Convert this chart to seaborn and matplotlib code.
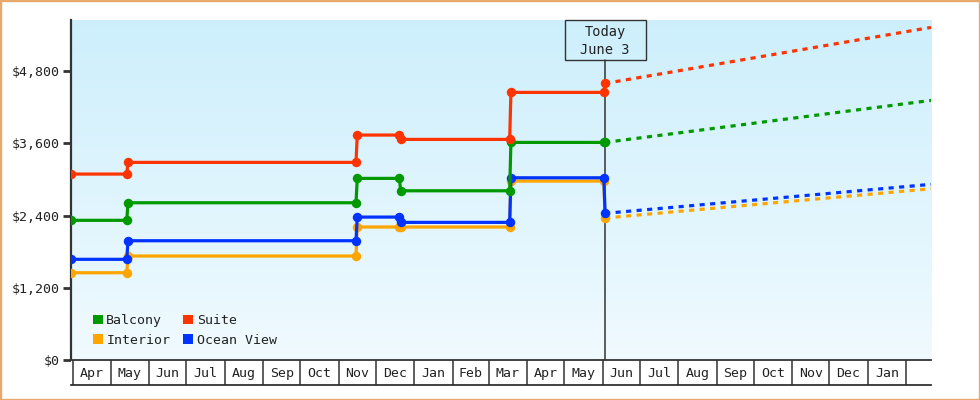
import numpy as np
import pandas as pd
import matplotlib
matplotlib.use("Agg")
import matplotlib.pyplot as plt
import matplotlib.transforms as mtransforms
import matplotlib.dates as mdates
from matplotlib.patches import Patch, Rectangle
from matplotlib.colors import LinearSegmentedColormap
from matplotlib.ticker import FuncFormatter
import seaborn as sns

# ---------------- data ----------------
legend_order = ["Balcony", "Interior", "Suite", "Ocean View"]
draw_order = ["Interior", "Ocean View", "Balcony", "Suite"]
palette = {"Balcony": "#009900", "Interior": "#ffa500",
           "Suite": "#ff3300", "Ocean View": "#0033ff"}

hist_dates = ["2023-03-30", "2023-05-14", "2023-05-15", "2023-11-15", "2023-11-16",
              "2023-12-20", "2023-12-21", "2024-03-18", "2024-03-19",
              "2024-06-02", "2024-06-03"]
balcony_hist = [2321, 2321, 2613, 2613, 3018, 3018, 2812, 2812, 3616, 3616, 3616]
interior_hist = [1450, 1450, 1728, 1728, 2210, 2210, 2210, 2210, 2973, 2973, 2360]
suite_hist = [3090, 3090, 3284, 3284, 3738, 3738, 3666, 3666, 4447, 4447, 4596]
ocean_hist = [1673, 1673, 1982, 1982, 2375, 2375, 2287, 2287, 3028, 3028, 2437]

proj_dates = ["2024-06-03", "2025-02-21"]
balcony_proj = [3616, 4314]
interior_proj = [2360, 2846]
suite_proj = [4596, 5527]
ocean_proj = [2437, 2919]

today = "2024-06-03"
today_label = "Today\nJune 3"
y_ticks = [0, 1200, 2400, 3600, 4800]
y_max = 5650
x_start, x_end = "2023-03-30", "2025-02-21"
month_starts = pd.date_range("2023-04-01", "2025-02-01", freq="MS")

# ---------------- frames ----------------
hist_series = {"Balcony": balcony_hist, "Interior": interior_hist,
               "Suite": suite_hist, "Ocean View": ocean_hist}
proj_series = {"Balcony": balcony_proj, "Interior": interior_proj,
               "Suite": suite_proj, "Ocean View": ocean_proj}
hist_df = pd.concat([pd.DataFrame({"date": pd.to_datetime(hist_dates), "price": v, "cabin": k})
                     for k, v in hist_series.items()], ignore_index=True)
proj_df = pd.concat([pd.DataFrame({"date": pd.to_datetime(proj_dates), "price": v, "cabin": k})
                     for k, v in proj_series.items()], ignore_index=True)

# ---------------- style ----------------
sns.set_style("white")
plt.rcParams["font.family"] = ["DejaVu Sans Mono"]
plt.rcParams["font.size"] = 9.5
txt_color = "#222222"
dark = "#333333"

fig = plt.figure(figsize=(9.8, 4.0), dpi=100)
fig.patch.set_facecolor("white")
L, R = 71 / 980, 931 / 980
ax = fig.add_axes([L, 40 / 400, R - L, 340 / 400])
ax2 = fig.add_axes([L, 15 / 400, R - L, 25 / 400], sharex=ax)

# gradient background
cmap = LinearSegmentedColormap.from_list("bg", ["#f0faff", "#cdeffc"])
grad = np.linspace(0, 1, 256).reshape(-1, 1)
ax.imshow(grad, cmap=cmap, aspect="auto", extent=[0, 1, 0, 1], origin="lower",
          transform=ax.transAxes, zorder=0)

# today line
today_dt = pd.Timestamp(today)
box_bottom_frac = (360 - 60) / 340
ax.axvline(today_dt, ymin=0, ymax=box_bottom_frac, color=dark, lw=1.1, zorder=1)

# projections (dotted)
for cab in draw_order:
    sns.lineplot(data=proj_df[proj_df.cabin == cab], x="date", y="price",
                 color=palette[cab], lw=2.3, linestyle=(0, (1.6, 1.7)),
                 estimator=None, sort=False, legend=False, ax=ax, zorder=2)

# history step lines
for cab in draw_order:
    sns.lineplot(data=hist_df[hist_df.cabin == cab], x="date", y="price",
                 color=palette[cab], lw=2.3, marker="o", markersize=6.8,
                 markeredgewidth=0, estimator=None, sort=False, legend=False,
                 ax=ax, zorder=3)

# axes formatting
ax.set_xlim(pd.Timestamp(x_start), pd.Timestamp(x_end))
ax.set_ylim(0, y_max)
ax.set_yticks(y_ticks)
ax.yaxis.set_major_formatter(FuncFormatter(lambda v, p: f"${v:,.0f}"))
ax.tick_params(axis="y", direction="out", length=6, width=2, color=dark,
               labelcolor=txt_color, labelsize=9.5, pad=2, left=True)
ax.tick_params(axis="x", bottom=False, labelbottom=False)
ax.set_xlabel("")
ax.set_ylabel("")
for s in ["top", "right", "bottom"]:
    ax.spines[s].set_visible(False)
ax.spines["left"].set_color(dark)
ax.spines["left"].set_linewidth(1.6)
ax.grid(False)

# today annotation box (80 x 40 px, hanging from the top of the plot)
x_pix = ax.transData.transform((mdates.date2num(today_dt), 0))[0]
top_pix = ax.transAxes.transform((0, 1))[1]
box_w, box_h = 81, 40
ax.add_patch(Rectangle((x_pix - box_w / 2, top_pix - box_h), box_w, box_h,
                       transform=mtransforms.IdentityTransform(), fill=False,
                       ec=dark, lw=1, zorder=4, clip_on=False))
ax.text(x_pix, top_pix - box_h / 2 - 1, today_label, ha="center", va="center",
        color=txt_color, linespacing=1.3, fontsize=9.8, zorder=5,
        transform=mtransforms.IdentityTransform())

# month boxes axis
ax2.set_ylim(0, 1)
ax2.set_facecolor("white")
ax2.tick_params(axis="both", bottom=False, left=False, labelbottom=False, labelleft=False)
for s in ["left", "right"]:
    ax2.spines[s].set_visible(False)
for s in ["top", "bottom"]:
    ax2.spines[s].set_color(dark)
    ax2.spines[s].set_linewidth(1.3)
ax2.vlines(month_starts, 0, 1, color=dark, lw=1.1)
btrans = mtransforms.blended_transform_factory(ax2.transData, ax2.transAxes)
for a, b in zip(month_starts[:-1], month_starts[1:]):
    mid = a + (b - a) / 2
    ax2.text(mid, 0.45, a.strftime("%b"), ha="center", va="center",
             color=txt_color, fontsize=9.5, transform=btrans)
ax2.set_xlabel("")
ax2.grid(False)

# legend
handles = [Patch(facecolor=palette[c], edgecolor="none", label=c) for c in legend_order]
ax.legend(handles=handles, ncol=2, loc="lower left", bbox_to_anchor=(0.018, 0.02),
          frameon=False, borderpad=0, handlelength=0.75, handleheight=0.75,
          handletextpad=0.25, columnspacing=1.0, labelspacing=0.5,
          prop={"size": 9.5}, labelcolor=txt_color)

# figure border
fig.patches.append(Rectangle((0, 0), 1, 1, transform=fig.transFigure, fill=False,
                             ec="#e8a86a", lw=2.4, zorder=10))

fig.savefig("out.png", dpi=100)
